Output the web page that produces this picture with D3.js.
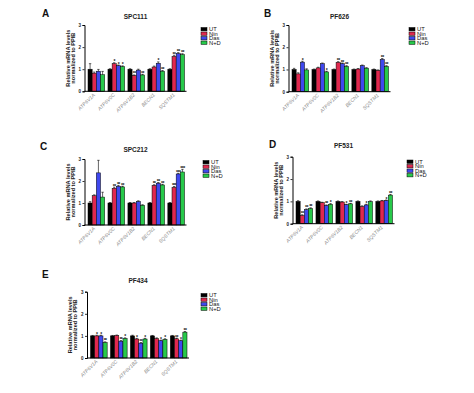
<!DOCTYPE html>
<html><head><meta charset="utf-8">
<script src="https://cdn.jsdelivr.net/npm/d3@7"></script>
<style>
html,body{margin:0;padding:0;background:#fff;}
svg{display:block;font-family:"Liberation Sans",Arial,Helvetica,sans-serif;}
</style></head>
<body><svg id="chart" width="474" height="393"></svg>
<script>
// ---- data ----
const categories = ["ATP6V1A","ATP6V0C","ATP6V1B2","BECN1","SQSTM1"];
const series = ["UT","Nin","Das","N+D"];
const panelLetters = ["A","B","C","D","E"];
const cellLines = ["SPC111","PF626","SPC212","PF531","PF434"];
const yTicks = [0,1,2,3];

const spc111Values = [[1.00,0.82,0.91,0.75],[1.00,1.25,1.16,1.12],[1.00,0.72,0.96,0.74],[1.00,1.10,1.27,0.91],[1.00,1.58,1.71,1.66]];
const spc111Errors = [[0.25,0.05,0.08,0.15],[0.02,0.04,0.03,0.03],[0.02,0.02,0.04,0.03],[0.02,0.04,0.06,0.03],[0.02,0.05,0.04,0.04]];
const spc111Stars  = [["","","",""],["","*","*","*"],["","**","","**"],["","","*","**"],["","**","**","**"]];

const pf626Values = [[1.00,0.80,1.33,0.98],[1.00,1.07,1.26,0.89],[1.00,1.32,1.26,1.14],[1.00,1.02,1.17,1.06],[1.00,0.96,1.45,1.14]];
const pf626Errors = [[0.05,0.05,0.04,0.05],[0.02,0.03,0.03,0.03],[0.02,0.03,0.03,0.03],[0.02,0.02,0.03,0.02],[0.02,0.02,0.04,0.03]];
const pf626Stars  = [["","","*",""],["","","","*"],["","**","**","**"],["","","",""],["","","**","**"]];

const spc212Values = [[1.00,1.33,2.37,1.27],[1.00,1.67,1.76,1.73],[1.00,1.00,1.07,0.90],[1.00,1.80,1.90,1.82],[1.00,1.71,2.32,2.41]];
const spc212Errors = [[0.06,0.04,0.57,0.22],[0.02,0.05,0.04,0.03],[0.02,0.02,0.03,0.02],[0.02,0.03,0.03,0.03],[0.02,0.04,0.03,0.12]];
const spc212Stars  = [["","","",""],["","**","**","**"],["","","",""],["","**","**","**"],["","***","***","***"]];

const pf531Values = [[1.00,0.37,0.63,0.68],[1.00,0.94,0.82,0.87],[1.00,0.97,0.85,0.89],[1.00,0.77,0.84,0.99],[1.00,1.02,1.04,1.28]];
const pf531Errors = [[0.03,0.03,0.03,0.03],[0.02,0.02,0.02,0.03],[0.02,0.02,0.02,0.02],[0.02,0.03,0.03,0.03],[0.02,0.02,0.02,0.03]];
const pf531Stars  = [["","**","**","**"],["","","**","*"],["","","*","**"],["","","*",""],["","","*","**"]];

const pf434Values = [[1.00,1.00,1.00,0.70],[1.00,1.02,0.76,0.88],[1.00,0.86,0.67,0.86],[1.00,0.88,0.78,0.84],[1.00,0.87,0.78,1.17]];
const pf434Errors = [[0.02,0.03,0.03,0.03],[0.02,0.02,0.03,0.03],[0.03,0.03,0.03,0.03],[0.02,0.03,0.03,0.03],[0.02,0.03,0.03,0.03]];
const pf434Stars  = [["","*","*","**"],["","","**","*"],["","*","**","*"],["","","*","*"],["","**","*","**"]];

const allValues = [spc111Values,pf626Values,spc212Values,pf531Values,pf434Values];
const allErrors = [spc111Errors,pf626Errors,spc212Errors,pf531Errors,pf434Errors];
const allStars  = [spc111Stars,pf626Stars,spc212Stars,pf531Stars,pf434Stars];

// ---- layout & style ----
const colors = ["#000000","#e0284e","#3f48ee","#27c94a"];
const layout = [
  {ax:84.5, y0:91.3, y3:25,   letterX:42, letterY:17,  titleY:18.5, legX:201, legY:27.5},
  {ax:288.5,y0:91.7, y3:25,   letterX:264,letterY:17,  titleY:18.5, legX:409, legY:27.5},
  {ax:84.5, y0:225,  y3:159,  letterX:40, letterY:149.5,titleY:151.5,legX:203, legY:160.5},
  {ax:292.5,y0:223.7,y3:156.7,letterX:269,letterY:148, titleY:148, legX:407, legY:160},
  {ax:87,   y0:358,  y3:291.7,letterX:42, letterY:278, titleY:283, legX:201, legY:293.5}
];

const svg = d3.select("#chart");

layout.forEach((L, p) => {
  const g = svg.append("g");
  const x0 = d3.scaleBand().domain(categories).range([L.ax+3.5, L.ax+100]).paddingInner(0.165).paddingOuter(0);
  const x1 = d3.scaleBand().domain(series).range([0, x0.bandwidth()]).padding(0);
  const y = d3.scaleLinear().domain([0,3]).range([L.y0, L.y3]);

  g.append("text").attr("x", L.letterX).attr("y", L.letterY).text(panelLetters[p])
    .attr("font-size", 10).attr("font-weight", "bold").attr("fill", "#111");
  g.append("text").attr("x", L.ax+51).attr("y", L.titleY).attr("text-anchor","middle")
    .text(cellLines[p]).attr("font-size", 6.5).attr("font-weight","bold").attr("fill","#222");

  const vals = allValues[p], errs = allErrors[p], stars = allStars[p];
  categories.forEach((c, ci) => {
    const gg = g.append("g").attr("transform", `translate(${x0(c)},0)`);
    series.forEach((s, si) => {
      const v = vals[ci][si], e = errs[ci][si];
      const bx = x1(s), bw = x1.bandwidth();
      gg.append("rect").attr("x", bx).attr("y", y(v)).attr("width", bw).attr("height", y(0)-y(v))
        .attr("fill", colors[si]).attr("stroke", "#000").attr("stroke-width", 0.5);
      const cx = bx + bw/2;
      gg.append("line").attr("x1", cx).attr("x2", cx).attr("y1", y(v)).attr("y2", y(v+e))
        .attr("stroke","#000").attr("stroke-width",0.6);
      gg.append("line").attr("x1", cx-1.2).attr("x2", cx+1.2).attr("y1", y(v+e)).attr("y2", y(v+e))
        .attr("stroke","#000").attr("stroke-width",0.6);
      if (stars[ci][si]) {
        gg.append("text").attr("x", cx).attr("y", y(v+e) + 0.5).attr("text-anchor","middle")
          .text(stars[ci][si]).attr("font-size", 5).attr("letter-spacing", -0.5)
          .attr("font-weight","bold").attr("fill","#111");
      }
    });
  });

  const yAxis = d3.axisLeft(y).tickValues(yTicks).tickSize(2).tickPadding(1.5).tickFormat(d3.format("d"));
  const ya = g.append("g").attr("transform", `translate(${L.ax},0)`).call(yAxis);
  ya.select(".domain").attr("stroke","#000").attr("stroke-width",1);
  ya.selectAll(".tick line").attr("stroke","#000").attr("stroke-width",0.8);
  ya.selectAll(".tick text").attr("font-size",4.5).attr("font-weight","bold").attr("fill","#222")
    .attr("font-family","Liberation Sans, Arial, sans-serif");

  const xAxis = d3.axisBottom(x0).tickSize(0).tickPadding(0);
  const xa = g.append("g").attr("transform", `translate(0,${L.y0})`).call(xAxis);
  xa.select(".domain").attr("d", `M${L.ax},0H${L.ax+102}`).attr("stroke","#000").attr("stroke-width",1);
  xa.selectAll(".tick text")
    .attr("font-size",5).attr("font-style","italic").attr("fill","#8a8a8a")
    .attr("font-family","Liberation Sans, Arial, sans-serif")
    .attr("text-anchor","end").attr("dy",null).attr("y",0)
    .attr("transform","translate(-1,4) rotate(-45)");

  const ylab = g.append("text").attr("transform", `translate(${L.ax-15},${(L.y0+L.y3)/2}) rotate(-90)`)
    .attr("text-anchor","middle").attr("font-size",5.6).attr("font-weight","bold").attr("fill","#222");
  ylab.append("tspan").attr("x",0).attr("y",0).text("Relative mRNA levels");
  ylab.append("tspan").attr("x",0).attr("y",5).text("normalized to PPIB");

  series.forEach((s, si) => {
    const ly = L.legY + si*4.5;
    g.append("rect").attr("x", L.legX).attr("y", ly).attr("width", 6).attr("height", 3.4)
      .attr("fill", colors[si]).attr("stroke","#000").attr("stroke-width",0.5);
    g.append("text").attr("x", L.legX+8).attr("y", ly+3.6).text(s)
      .attr("font-size",5.8).attr("fill","#111");
  });
});
</script></body></html>
